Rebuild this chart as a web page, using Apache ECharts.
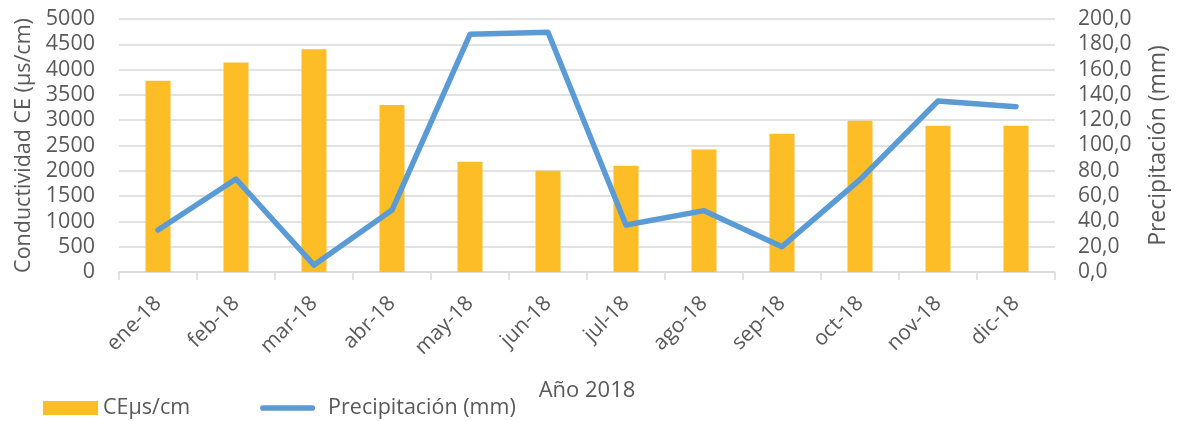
<!DOCTYPE html>
<html lang="es">
<head>
  <meta charset="UTF-8">
  <title>CE y precipitación 2018</title>
  <script src="https://cdn.jsdelivr.net/npm/echarts@6/dist/echarts.min.js"></script>
  <style>
    * { padding: 0; margin: 0; }
    #main { width: 1178px; height: 421px; background: #fff; }
  </style>
</head>
<body>
  <div id="main"></div>
  <script>
    // meses 2018
    var months = ['ene-18', 'feb-18', 'mar-18', 'abr-18', 'may-18', 'jun-18',
                  'jul-18', 'ago-18', 'sep-18', 'oct-18', 'nov-18', 'dic-18'];
    // conductividad CE (µs/cm)
    var ceValues = [3780, 4140, 4400, 3300, 2180, 2000, 2100, 2420, 2730, 2990, 2890, 2890];
    // precipitación (mm)
    var rainValues = [33.2, 73.5, 5.5, 49.0, 187.9, 189.5, 37.2, 48.5, 20.0, 73.0, 135.2, 130.7];

    var gray = '#595959';
    var font = '"Open Sans", sans-serif';

    var chartDom = document.getElementById('main');
    var myChart = echarts.init(chartDom);
    var option;

    option = {
      animation: false,
      textStyle: { fontFamily: font, color: gray },
      grid: { left: 119, right: 121, top: 19, bottom: 149 },
      legend: {
        left: 38,
        top: 392,
        itemGap: 70,
        itemWidth: 55,
        itemHeight: 14,
        textStyle: { fontFamily: font, fontSize: 21.5, color: gray },
        data: [
          { name: 'CEμs/cm', icon: 'rect' },
          {
            name: 'Precipitación (mm)',
            icon: 'path://M3,0 H55 A3,3 0 0 1 55,6 H3 A3,3 0 0 1 3,0 Z',
            textStyle: { padding: [0, 0, 0, 8] }
          }
        ]
      },
      xAxis: {
        type: 'category',
        data: months,
        name: 'Año 2018',
        nameLocation: 'middle',
        nameGap: 108,
        nameTextStyle: { fontFamily: font, fontSize: 22, color: gray },
        axisLine: { lineStyle: { color: '#d9d9d9', width: 1.5 } },
        axisTick: { show: true, length: 8, lineStyle: { color: '#d9d9d9', width: 1.5 } },
        axisLabel: { rotate: 45, margin: 28, fontSize: 21, color: gray, fontFamily: font }
      },
      yAxis: [
        {
          type: 'value',
          min: 0, max: 5000, interval: 500,
          name: 'Conductividad CE (µs/cm)',
          nameLocation: 'middle',
          nameGap: 83,
          nameTextStyle: { fontFamily: font, fontSize: 21.5, color: gray },
          axisLine: { show: false },
          axisTick: { show: false },
          axisLabel: {
            margin: 24, fontSize: 21.5, color: gray, fontFamily: font,
            formatter: function (v) { return String(v); }
          },
          splitLine: { lineStyle: { color: '#d9d9d9', width: 1.5 } }
        },
        {
          type: 'value',
          min: 0, max: 200, interval: 20,
          name: 'Precipitación (mm)',
          nameLocation: 'middle',
          nameGap: 92,
          nameRotate: 90,
          nameTextStyle: { fontFamily: font, fontSize: 23, color: gray },
          axisLine: { show: false },
          axisTick: { show: false },
          splitLine: { show: false },
          axisLabel: {
            margin: 23, fontSize: 21, color: gray, fontFamily: font,
            formatter: function (v) { return v.toFixed(1).replace('.', ','); }
          }
        }
      ],
      series: [
        {
          name: 'CEμs/cm',
          type: 'bar',
          data: ceValues,
          barWidth: 25,
          itemStyle: { color: '#FCBD26' }
        },
        {
          name: 'Precipitación (mm)',
          type: 'line',
          yAxisIndex: 1,
          data: rainValues,
          symbol: 'none',
          lineStyle: { color: '#5B9BD5', width: 5.5, cap: 'round', join: 'round' },
          itemStyle: { color: '#5B9BD5' }
        }
      ]
    };

    option && myChart.setOption(option);
  </script>
</body>
</html>
